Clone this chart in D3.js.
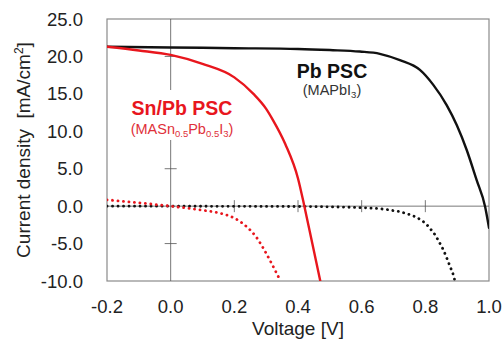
<!DOCTYPE html>
<html>
<head>
<meta charset="utf-8">
<script src="https://cdn.jsdelivr.net/npm/d3@7"></script>
<style>
  body { margin: 0; background: #fff; }
  text { font-family: "Liberation Sans", Arial, sans-serif; }
</style>
</head>
<body>
<svg id="chart" width="504" height="339"></svg>
<script>
// voltage [V], current density [mA/cm2]
var pbLight = [[-0.2,21.3],[0,21.2],[0.2,21.1],[0.4,21.0],[0.5,20.85],[0.594,20.65],[0.657,20.35],[0.72,19.5],[0.783,18.2],[0.825,16.2],[0.867,13.5],[0.899,10.8],[0.93,7.5],[0.961,3.5],[0.988,-0.1],[1.0,-2.9]];
var snpbLight = [[-0.2,21.3],[-0.1,20.8],[0,20.2],[0.1,19.0],[0.2,17.2],[0.26,15.0],[0.3,13.0],[0.32,11.6],[0.36,8.3],[0.40,3.7],[0.42,0],[0.445,-5],[0.47,-10]];
var snpbDark = [[-0.2,0.85],[-0.1,0.45],[0,0],[0.1,-0.55],[0.15,-0.9],[0.2,-1.6],[0.24,-2.8],[0.27,-4.2],[0.3,-6.3],[0.32,-7.9],[0.345,-10]];
var pbDark = [[-0.2,0],[0.4,-0.05],[0.6,-0.2],[0.668,-0.4],[0.70,-0.6],[0.72,-0.75],[0.741,-1.0],[0.762,-1.3],[0.788,-1.9],[0.804,-2.45],[0.815,-3.0],[0.83,-3.8],[0.841,-4.6],[0.856,-5.8],[0.867,-6.9],[0.878,-8.1],[0.888,-9.2],[0.893,-10]];

var xTicks = [-0.2,0.0,0.2,0.4,0.6,0.8,1.0];
var yTicks = [25,20,15,10,5,0,-5,-10];

var red = "#e8161d";
var svg = d3.select("#chart");
var pLeft = 107, pRight = 489, pTop = 19, pBottom = 281;

var x = d3.scaleLinear().domain([-0.2,1.0]).range([pLeft,pRight]);
var y = d3.scaleLinear().domain([-10,25]).range([pBottom,pTop]);

svg.append("clipPath").attr("id","plotClip")
   .append("rect").attr("x",pLeft).attr("y",pTop).attr("width",pRight-pLeft).attr("height",pBottom-pTop);

// frame
svg.append("rect")
   .attr("x",pLeft).attr("y",pTop).attr("width",pRight-pLeft).attr("height",pBottom-pTop)
   .attr("fill","none").attr("stroke","#8a8a8a").attr("stroke-width",1.2);

// axes through origin
svg.append("line").attr("x1",x(0)).attr("x2",x(0)).attr("y1",pTop).attr("y2",pBottom)
   .attr("stroke","#555").attr("stroke-width",0.8);
svg.append("line").attr("x1",pLeft).attr("x2",pRight).attr("y1",y(0)).attr("y2",y(0))
   .attr("stroke","#555").attr("stroke-width",0.8);

svg.selectAll(".xt").data(xTicks.filter(function(d){return d>0 && d<1;}))
   .enter().append("line")
   .attr("x1",function(d){return x(d);}).attr("x2",function(d){return x(d);})
   .attr("y1",y(0)-6).attr("y2",y(0)+6)
   .attr("stroke","#555").attr("stroke-width",0.8);
svg.selectAll(".yt").data(yTicks.filter(function(d){return d!==0 && d>-10 && d<25;}))
   .enter().append("line")
   .attr("x1",x(0)-6).attr("x2",x(0)+6)
   .attr("y1",function(d){return y(d);}).attr("y2",function(d){return y(d);})
   .attr("stroke","#555").attr("stroke-width",0.8);

// tick labels
svg.selectAll(".xl").data(xTicks).enter().append("text")
   .attr("x",function(d){return x(d);}).attr("y",313)
   .attr("text-anchor","middle").attr("font-size",18.5).attr("fill","#222")
   .text(function(d){return d.toFixed(1);});
svg.selectAll(".yl").data(yTicks).enter().append("text")
   .attr("x",83).attr("y",function(d){return y(d)+6.5;})
   .attr("text-anchor","end").attr("font-size",18.5).attr("fill","#222")
   .text(function(d){return d.toFixed(1);});

svg.append("text").attr("x",(pLeft+pRight)/2).attr("y",335)
   .attr("text-anchor","middle").attr("font-size",19).attr("fill","#222")
   .text("Voltage [V]");
var yt = svg.append("text")
   .attr("transform","translate(30," + ((pTop+pBottom)/2) + ") rotate(-90)")
   .attr("text-anchor","middle").attr("font-size",19).attr("fill","#222");
yt.append("tspan").text("Current density\u00a0\u00a0[mA/cm");
yt.append("tspan").attr("font-size",12).attr("dy",-7).text("2");
yt.append("tspan").attr("dy",7).text("]");

// label boxes
svg.append("rect").attr("x",127).attr("y",90).attr("width",112).attr("height",50).attr("fill","#fff");

var line = d3.line()
   .x(function(d){return x(d[0]);})
   .y(function(d){return y(d[1]);})
   .curve(d3.curveMonotoneX);

var plot = svg.append("g").attr("clip-path","url(#plotClip)");
var series = [
  {data: pbDark, color: "#111", dotted: true},
  {data: snpbDark, color: red, dotted: true},
  {data: pbLight, color: "#111", dotted: false},
  {data: snpbLight, color: red, dotted: false}
];
series.forEach(function(s){
  plot.append("path")
     .attr("d",line(s.data))
     .attr("fill","none")
     .attr("stroke",s.color)
     .attr("stroke-width",s.dotted ? 2.8 : 2.4)
     .attr("stroke-linecap","round")
     .attr("stroke-dasharray",s.dotted ? "0.1 5.4" : null);
});

// annotations
svg.append("text").attr("x",332).attr("y",78).attr("text-anchor","middle")
   .attr("font-size",19.5).attr("font-weight","bold").attr("fill","#111").text("Pb PSC");
var t1 = svg.append("text").attr("x",332).attr("y",95).attr("text-anchor","middle")
   .attr("font-size",14.5).attr("fill","#333");
t1.append("tspan").text("(MAPbI");
t1.append("tspan").attr("font-size",9.5).attr("dy",3).text("3");
t1.append("tspan").attr("dy",-3).text(")");

svg.append("text").attr("x",182).attr("y",115).attr("text-anchor","middle")
   .attr("font-size",19.5).attr("font-weight","bold").attr("fill",red).text("Sn/Pb PSC");
var t2 = svg.append("text").attr("x",182).attr("y",134).attr("text-anchor","middle")
   .attr("font-size",14.5).attr("fill","#e0303a");
t2.append("tspan").text("(MASn");
t2.append("tspan").attr("font-size",9.5).attr("dy",3).text("0.5");
t2.append("tspan").attr("dy",-3).text("Pb");
t2.append("tspan").attr("font-size",9.5).attr("dy",3).text("0.5");
t2.append("tspan").attr("dy",-3).text("I");
t2.append("tspan").attr("font-size",9.5).attr("dy",3).text("3");
t2.append("tspan").attr("dy",-3).text(")");
</script>
</body>
</html>
